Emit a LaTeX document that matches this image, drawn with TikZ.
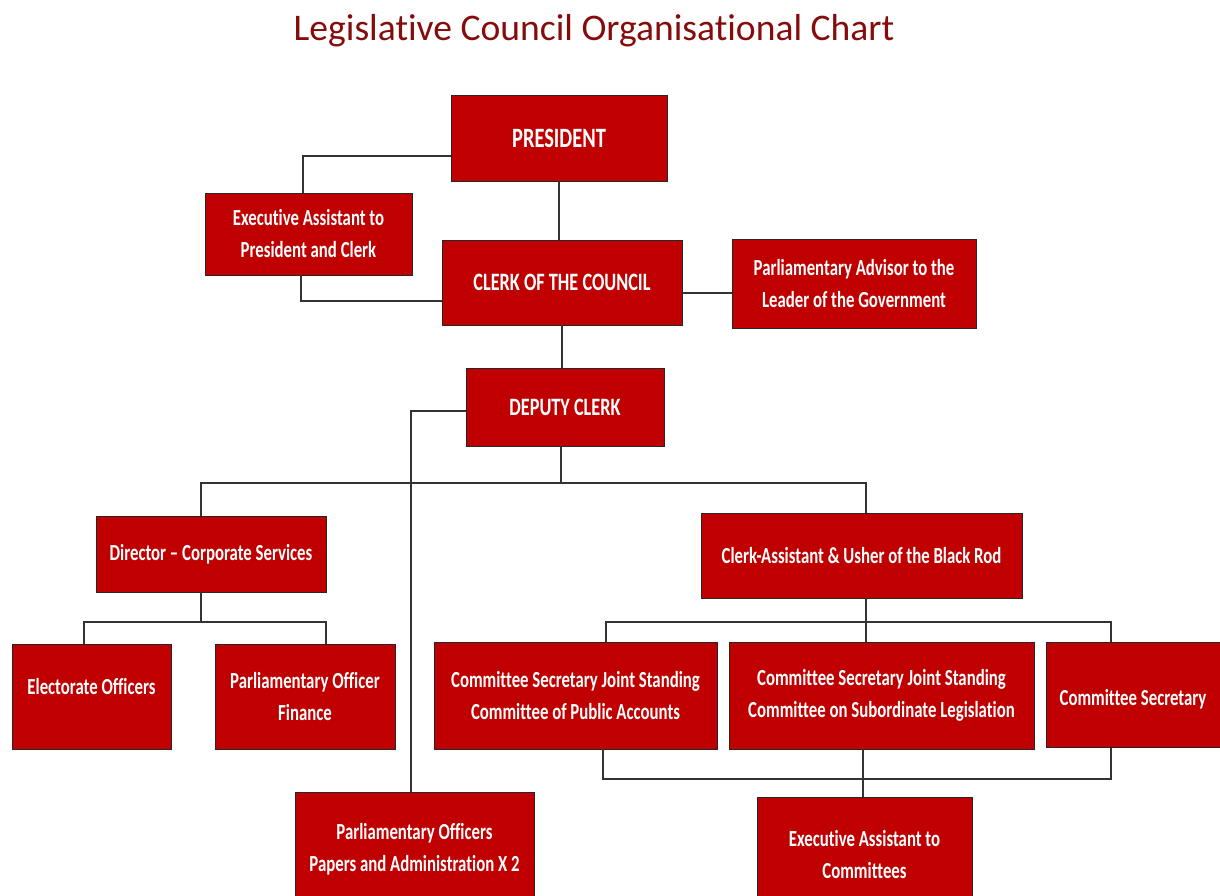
\documentclass[tikz,border=0pt]{standalone}
\usepackage{fontspec}
\setmainfont[Ligatures=CommonOff]{Carlito}
\newfontfamily\postfont[FakeStretch=0.73,Ligatures=CommonOff]{Carlito}

\definecolor{postred}{RGB}{192,0,0}
\definecolor{titlered}{RGB}{134,12,12}

\tikzset{
  post/.style={draw=black!85, fill=postred, text=white, align=center, inner sep=2pt,
    font=\postfont\bfseries\fontsize{11.5}{16}\selectfont},
  link/.style={draw=black!80, line width=0.75pt},
}

\begin{document}
\begin{tikzpicture}[x=0.5pt,y=-0.5pt]
  \useasboundingbox (0,0) rectangle (1220,895);

  \node[text=titlered, font=\fontsize{18.8}{22}\selectfont] (title) at (594,31) {Legislative Council Organisational Chart};

  % top of the council
  \node[post, minimum width=108pt, minimum height=43pt, font=\postfont\bfseries\fontsize{14}{16}\selectfont] (pres) at (559,138) {PRESIDENT};
  \node[post, minimum width=103.5pt, minimum height=41pt] (eaPres) at (308.5,234) {Executive Assistant to\\President and Clerk};
  \node[post, minimum width=120pt, minimum height=42.5pt, font=\postfont\bfseries\fontsize{12.5}{16}\selectfont] (clerk) at (562,282.5) {CLERK OF THE COUNCIL};
  \node[post, minimum width=122pt, minimum height=44.5pt] (advisor) at (854,284) {Parliamentary Advisor to the\\Leader of the Government};
  \node[post, minimum width=99pt, minimum height=39pt, font=\postfont\bfseries\fontsize{12.5}{16}\selectfont] (deputy) at (565,407) {DEPUTY CLERK};

  % second level
  \node[post, minimum width=115pt, minimum height=38pt] (director) at (211,554) {Director – Corporate Services};
  \node[post, minimum width=160.5pt, minimum height=42.5pt] (clerkAsst) at (861.5,555.5) {Clerk-Assistant \& Usher of the Black Rod};

  % third level
  \node[post, minimum width=79.5pt, minimum height=52.5pt, text depth=10pt] (electorate) at (91.5,696.5) {Electorate Officers};
  \node[post, minimum width=90pt, minimum height=52.5pt] (finance) at (305,696.5) {Parliamentary Officer\\Finance};
  \node[post, minimum width=141.5pt, minimum height=53.5pt] (cspa) at (575.5,695.5) {Committee Secretary Joint Standing\\Committee of Public Accounts};
  \node[post, minimum width=152.5pt, minimum height=53.5pt] (cssl) at (881.5,695.5) {Committee Secretary Joint Standing\\Committee on Subordinate Legislation};
  \node[post, minimum width=87pt, minimum height=52.5pt, text height=12pt] (cs) at (1133,695) {Committee Secretary};
  \node[post, minimum width=119.5pt, minimum height=57pt] (papers) at (414.5,849) {Parliamentary Officers\\Papers and Administration X 2};
  \node[post, minimum width=107.5pt, minimum height=57pt] (eaComm) at (864.5,854) {Executive Assistant to\\Committees};

  % connectors
  \coordinate (j1) at (303,156);
  \draw[link] (pres.west |- j1) -- (j1) -- (eaPres.north -| j1);
  \draw[link] (pres.south) -- (pres.south |- clerk.north);
  \coordinate (j2) at (301,301);
  \draw[link] (eaPres.south -| j2) -- (j2) -- (clerk.west |- j2);
  \coordinate (j3) at (700,293);
  \draw[link] (clerk.east |- j3) -- (advisor.west |- j3);
  \draw[link] (clerk.south) -- (clerk.south |- deputy.north);

  \coordinate (j4) at (411,411);
  \draw[link] (deputy.west |- j4) -- (j4) -- (papers.north -| j4);
  \coordinate (bus1) at (561,483);
  \coordinate (j5) at (201,483);
  \coordinate (j6) at (866,483);
  \draw[link] (deputy.south -| bus1) -- (bus1);
  \draw[link] (director.north -| j5) -- (j5) -- (j6) -- (clerkAsst.north -| j6);

  \coordinate (j7) at (84,622);
  \coordinate (j8) at (326,622);
  \coordinate (j9) at (201,622);
  \draw[link] (director.south -| j9) -- (j9);
  \draw[link] (electorate.north -| j7) -- (j7) -- (j8) -- (finance.north -| j8);

  \coordinate (j10) at (606,622);
  \coordinate (j11) at (866,622);
  \coordinate (j12) at (1111,622);
  \draw[link] (clerkAsst.south -| j11) -- (cssl.north -| j11);
  \draw[link] (cspa.north -| j10) -- (j10) -- (j12) -- (cs.north -| j12);

  \coordinate (j13) at (603,779);
  \coordinate (j14) at (863,779);
  \coordinate (j15) at (1111,779);
  \draw[link] (cspa.south -| j13) -- (j13) -- (j15) -- (cs.south -| j15);
  \draw[link] (cssl.south -| j14) -- (eaComm.north -| j14);
\end{tikzpicture}
\end{document}
